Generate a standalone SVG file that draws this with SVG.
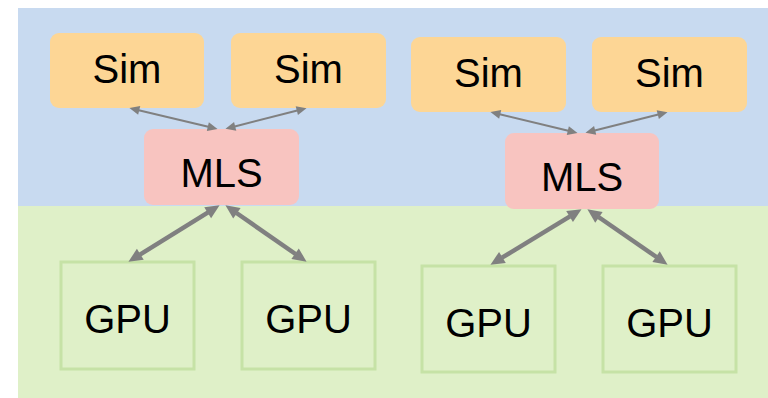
<svg xmlns="http://www.w3.org/2000/svg" width="768" height="398" viewBox="0 0 768 398">
<style>
.sim{fill:#fdd695}
.mls{fill:#f8c4c0}
.gpu{fill:#dff0c8;stroke:#c6e2a6;stroke-width:3}
.lbl{font-family:"Liberation Sans",Arial,sans-serif;font-size:40px;fill:#000;text-anchor:middle}
.thin{stroke:#808080;stroke-width:2;fill:none;marker-start:url(#hs);marker-end:url(#hs)}
.thick{stroke:#808080;stroke-width:4.5;fill:none;marker-start:url(#hl);marker-end:url(#hl)}
</style>
<defs>
<marker id="hs" markerUnits="userSpaceOnUse" orient="auto-start-reverse" refX="0.5" refY="0" markerWidth="20" markerHeight="20" overflow="visible"><path d="M0,-4.5 L10,0 L0,4.5 z" fill="#808080"/></marker>
<marker id="hl" markerUnits="userSpaceOnUse" orient="auto-start-reverse" refX="0.5" refY="0" markerWidth="20" markerHeight="20" overflow="visible"><path d="M0,-6.5 L14,0 L0,6.5 z" fill="#808080"/></marker>
</defs>
<rect x="18" y="8" width="750" height="198" fill="#c8daf0"/>
<rect x="18" y="206" width="750" height="192" fill="#dff0c8"/>
<g id="sim1"><rect class="sim" x="50" y="33" width="154" height="75" rx="9"/><text class="lbl" x="127" y="83">Sim</text></g>
<g id="sim2"><rect class="sim" x="231" y="33" width="155" height="75" rx="9"/><text class="lbl" x="308.5" y="83">Sim</text></g>
<g id="mls1"><rect class="mls" x="144" y="129" width="155" height="76" rx="9"/><text class="lbl" x="221.5" y="187">MLS</text></g>
<g id="sim3"><rect class="sim" x="411" y="37" width="155" height="75" rx="9"/><text class="lbl" x="488.5" y="87">Sim</text></g>
<g id="sim4"><rect class="sim" x="592" y="37" width="155" height="75" rx="9"/><text class="lbl" x="669.5" y="87">Sim</text></g>
<g id="mls2"><rect class="mls" x="505" y="133" width="154" height="76" rx="9"/><text class="lbl" x="582" y="191">MLS</text></g>
<g id="gpu1"><rect class="gpu" x="61" y="262" width="133" height="107"/><text class="lbl" x="127.5" y="333">GPU</text></g>
<g id="gpu2"><rect class="gpu" x="242" y="262" width="133" height="107"/><text class="lbl" x="308.5" y="333">GPU</text></g>
<g id="gpu3"><rect class="gpu" x="422" y="266" width="133" height="106"/><text class="lbl" x="488.5" y="337">GPU</text></g>
<g id="gpu4"><rect class="gpu" x="603" y="266" width="133" height="106"/><text class="lbl" x="669.5" y="337">GPU</text></g>
<g id="connectors">
<line class="thin" x1="138.7" y1="110.3" x2="208.3" y2="126.7"/>
<line class="thin" x1="234.7" y1="126.5" x2="297.3" y2="110.5"/>
<line class="thin" x1="499.7" y1="114.3" x2="568.3" y2="130.7"/>
<line class="thin" x1="594.7" y1="130.5" x2="658.3" y2="114.5"/>
<line class="thick" x1="208.1" y1="212.4" x2="139.9" y2="254.6"/>
<line class="thick" x1="236.5" y1="213.0" x2="295.5" y2="254.0"/>
<line class="thick" x1="570.0" y1="216.3" x2="502.0" y2="257.7"/>
<line class="thick" x1="598.5" y1="217.0" x2="656.5" y2="257.0"/>
</g>
</svg>
